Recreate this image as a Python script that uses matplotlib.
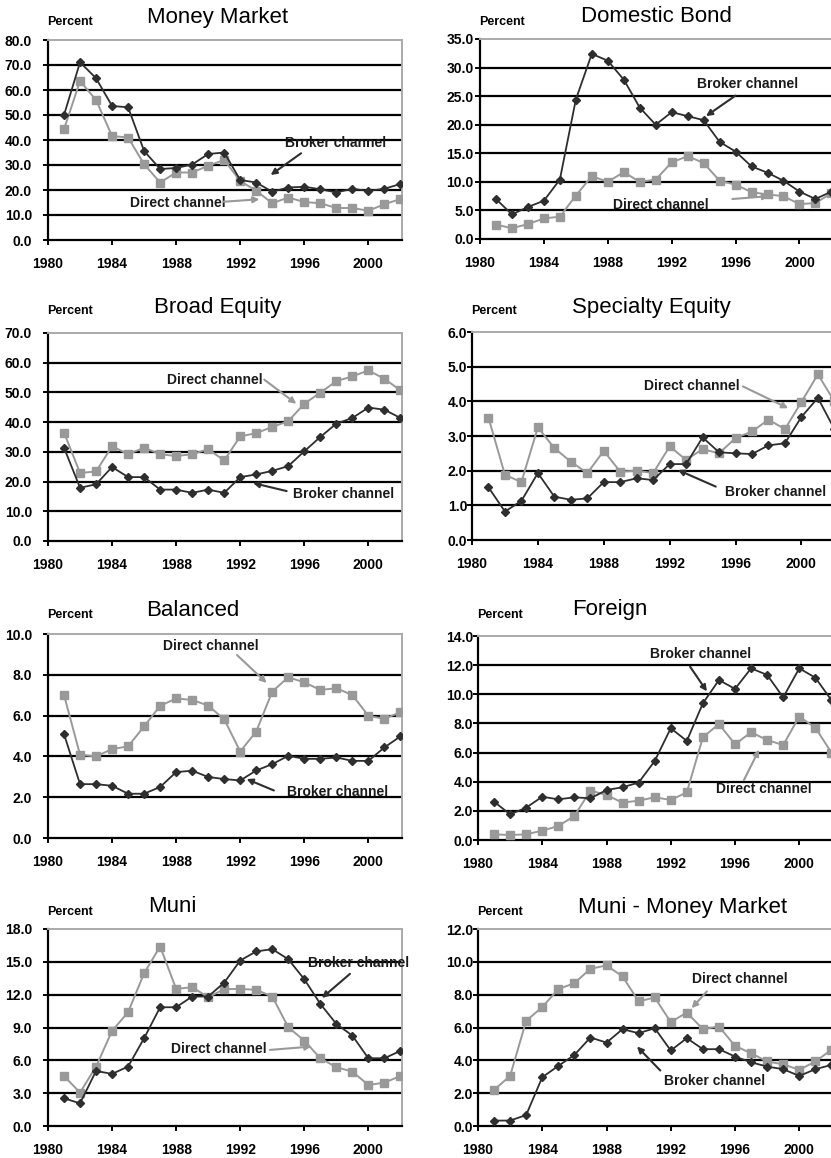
import numpy as np
import matplotlib
matplotlib.use("Agg")
import matplotlib.pyplot as plt

plt.rcParams['font.family'] = ['Liberation Sans', 'DejaVu Sans']

years = list(range(1981, 2003))

# Money Market
mm_broker = [50.0, 71.1, 64.7, 53.6, 53.1, 35.6, 28.4, 28.8, 30.2, 34.4, 35.0,
             24.0, 23.0, 19.3, 21.0, 21.3, 20.3, 19.0, 20.5, 19.6, 20.5, 22.4]
mm_direct = [44.3, 63.6, 56.0, 41.6, 41.0, 30.3, 23.0, 27.0, 27.0, 29.7, 32.0,
             23.6, 19.7, 14.7, 17.0, 15.2, 14.7, 12.8, 12.8, 11.7, 14.3, 16.4]

# Domestic Bond
db_broker = [7.0, 4.3, 5.6, 6.7, 10.4, 24.4, 32.4, 31.2, 27.9, 23.0, 20.0,
             22.2, 21.5, 20.8, 17.0, 15.3, 12.7, 11.6, 10.2, 8.3, 7.0, 8.3]
db_direct = [2.5, 1.9, 2.6, 3.6, 3.9, 7.6, 11.0, 10.0, 11.7, 10.0, 10.4,
             13.4, 14.5, 13.3, 10.2, 9.5, 8.2, 7.8, 7.5, 6.1, 6.3, 8.0]

# Broad Equity
be_broker = [31.4, 17.9, 19.1, 24.9, 21.5, 21.5, 17.3, 17.3, 16.2, 17.3, 16.2,
             21.5, 22.4, 23.6, 25.2, 30.2, 35.0, 39.5, 41.4, 44.9, 44.2, 41.4]
be_direct = [36.5, 22.9, 23.4, 31.9, 29.2, 31.4, 29.2, 28.6, 29.2, 30.9, 27.1,
             35.2, 36.3, 38.4, 40.3, 46.2, 49.9, 53.8, 55.4, 57.4, 54.6, 50.7]

# Specialty Equity
se_broker = [1.52, 0.82, 1.13, 1.93, 1.25, 1.16, 1.20, 1.67, 1.67, 1.78, 1.73,
             2.19, 2.19, 2.96, 2.53, 2.50, 2.48, 2.73, 2.79, 3.55, 4.10, 3.20]
se_direct = [3.53, 1.88, 1.67, 3.25, 2.65, 2.26, 1.93, 2.57, 1.97, 2.00, 1.93,
             2.70, 2.31, 2.62, 2.50, 2.94, 3.13, 3.47, 3.20, 3.98, 4.78, 4.00]

# Balanced
ba_broker = [5.09, 2.64, 2.64, 2.56, 2.17, 2.17, 2.50, 3.23, 3.30, 2.99, 2.89,
             2.82, 3.31, 3.62, 4.03, 3.88, 3.88, 3.95, 3.78, 3.78, 4.44, 4.98]
ba_direct = [7.01, 4.08, 4.00, 4.36, 4.49, 5.47, 6.48, 6.84, 6.77, 6.49, 5.82,
             4.24, 5.22, 7.18, 7.88, 7.63, 7.26, 7.34, 7.01, 5.99, 5.84, 6.17]

# Foreign
fo_broker = [2.63, 1.76, 2.22, 2.97, 2.79, 2.93, 2.86, 3.43, 3.62, 3.94, 5.42,
             7.67, 6.80, 9.38, 10.98, 10.37, 11.78, 11.33, 9.79, 11.78, 11.14, 9.6]
fo_direct = [0.39, 0.34, 0.39, 0.64, 0.96, 1.65, 3.39, 3.09, 2.56, 2.70, 2.93,
             2.75, 3.27, 7.05, 7.96, 6.57, 7.39, 6.86, 6.52, 8.47, 7.71, 6.0]

# Muni
mu_broker = [2.53, 2.07, 5.03, 4.76, 5.43, 8.02, 10.85, 10.85, 11.83, 11.83, 13.1,
             15.12, 15.95, 16.16, 15.24, 13.41, 11.16, 9.33, 8.26, 6.19, 6.19, 6.86]
mu_direct = [4.57, 3.05, 5.43, 8.69, 10.4, 13.96, 16.4, 12.53, 12.68, 11.77, 12.5,
             12.53, 12.44, 11.83, 9.02, 7.80, 6.19, 5.37, 4.97, 3.75, 3.96, 4.57]

# Muni - Money Market
mmm_broker = [0.33, 0.33, 0.67, 2.97, 3.66, 4.33, 5.39, 5.08, 5.90, 5.65, 5.96,
              4.60, 5.35, 4.68, 4.68, 4.23, 3.88, 3.62, 3.46, 3.05, 3.46, 3.72]
mmm_direct = [2.20, 3.05, 6.41, 7.24, 8.34, 8.70, 9.58, 9.78, 9.11, 7.59, 7.83,
              6.33, 6.91, 5.90, 6.06, 4.88, 4.43, 3.93, 3.76, 3.42, 3.93, 4.64]

BROKER = '#2e2e2e'
DIRECT = '#999999'
W, H = 831, 1158

fig = plt.figure(figsize=(W / 100, H / 100), dpi=100)


def px_axes(left, top, right, bottom):
    return fig.add_axes([left / W, 1 - bottom / H, (right - left) / W, (bottom - top) / H])


# title, broker, direct, ymax, ystep, box (l, t, r, b), title x, title y, percent y, ypad,
# annotations: (label, color, text x, text y, tail, tip)
panels = [
    ("Money Market", mm_broker, mm_direct, 80, 10, (48, 40, 402, 240), 218, 17, 22, 8,
     [("Broker channel", BROKER, 1994.8, 38.7, (1995.8, 34.7), (1993.9, 26.0)),
      ("Direct channel", DIRECT, 1985.1, 14.9, (1990.95, 15.3), (1993.2, 16.3))]),
    ("Domestic Bond", db_broker, db_direct, 35, 5, (480, 39, 833, 239), 656, 17, 22, 1,
     [("Broker channel", BROKER, 1993.6, 27.2, (1996.0, 25.1), (1994.15, 21.5)),
      ("Direct channel", DIRECT, 1988.35, 6.0, (1995.8, 7.0), (1998.1, 7.5))]),
    ("Broad Equity", be_broker, be_direct, 70, 10, (48, 333, 402, 541), 218, 308, 311, 8,
     [("Direct channel", DIRECT, 1987.4, 54.3, (1993.5, 54.3), (1995.5, 46.2)),
      ("Broker channel", BROKER, 1995.3, 15.9, (1994.9, 16.8), (1992.8, 19.5))]),
    ("Specialty Equity", se_broker, se_direct, 6, 1, (472, 332, 836, 540), 651, 308, 311, 0,
     [("Direct channel", DIRECT, 1990.45, 4.43, (1996.45, 4.43), (1999.2, 3.8)),
      ("Broker channel", BROKER, 1995.35, 1.39, (1994.8, 1.54), (1992.5, 2.02))]),
    ("Balanced", ba_broker, ba_direct, 10, 2, (48, 634, 402, 838), 193, 610, 615, 8,
     [("Direct channel", DIRECT, 1987.2, 9.43, (1991.8, 8.97), (1993.65, 7.6)),
      ("Broker channel", BROKER, 1994.9, 2.24, (1994.1, 2.33), (1992.4, 2.89))]),
    ("Foreign", fo_broker, fo_direct, 14, 2, (478, 636, 833, 840), 610, 610, 615, 0,
     [("Broker channel", BROKER, 1990.7, 12.77, (1993.2, 11.9), (1994.25, 10.2)),
      ("Direct channel", DIRECT, 1994.8, 3.5, (1996.55, 4.1), (1997.5, 6.2))]),
    ("Muni", mu_broker, mu_direct, 18, 3, (48, 929, 402, 1126), 172, 907, 912, 8,
     [("Broker channel", BROKER, 1996.25, 14.9, (1998.85, 13.9), (1997.1, 11.7)),
      ("Direct channel", DIRECT, 1987.65, 7.04, (1993.85, 6.95), (1996.45, 7.26))]),
    ("Muni - Money Market", mmm_broker, mmm_direct, 12, 2, (478, 929, 833, 1126), 683, 907, 912, 0,
     [("Direct channel", DIRECT, 1993.3, 8.95, (1994.25, 8.2), (1993.3, 7.18)),
      ("Broker channel", BROKER, 1991.55, 2.75, (1991.35, 3.38), (1989.9, 4.84))]),
]

for (title, broker, direct, ymax, ystep, box, tx, ty, py, ypad, notes) in panels:
    ax = px_axes(*box)
    yt = np.arange(0, ymax + ystep / 2, ystep)
    for v in yt[1:-1]:
        ax.axhline(v, color='black', lw=1.6, zorder=1)
    ax.plot(years, direct, color=DIRECT, lw=1.4, marker='s', ms=5.5, mec=DIRECT, zorder=3)
    ax.plot(years, broker, color=BROKER, lw=1.3, marker='D', ms=4, mec=BROKER, zorder=4)
    ax.set_xlim(1980, 2002.1)
    ax.set_ylim(0, ymax)
    ax.set_xticks(range(1980, 2001, 4))
    ax.set_yticks(yt)
    ax.set_yticklabels([f"{v:.1f}" for v in yt])
    ax.tick_params(axis='both', direction='out', length=3.5, width=1.4, color='black',
                   labelsize=10)
    ax.tick_params(axis='y', pad=ypad)
    ax.tick_params(axis='x', pad=9)
    for lab in ax.get_xticklabels() + ax.get_yticklabels():
        lab.set_fontweight('bold')
    for side in ('left', 'bottom'):
        ax.spines[side].set_color('black')
        ax.spines[side].set_linewidth(1.6)
    for side in ('top', 'right'):
        ax.spines[side].set_color('#aaaaaa')
        ax.spines[side].set_linewidth(1.4)

    for label, col, lx, ly, tail, tip in notes:
        ax.text(lx, ly, label, fontsize=10, fontweight='bold', ha='left', va='center',
                color='#1a1a1a', zorder=5)
        ax.annotate('', xy=tip, xytext=tail,
                    arrowprops=dict(arrowstyle='-|>', color=col, lw=1.5, mutation_scale=9,
                                    shrinkA=0, shrinkB=0), zorder=5)

    fig.text(tx / W, 1 - ty / H, title, fontsize=16, ha='center', va='center')
    fig.text((box[0] - 1) / W, 1 - py / H, "Percent", fontsize=9, fontweight='bold',
             ha='left', va='center')

fig.savefig("out.png", dpi=100)
